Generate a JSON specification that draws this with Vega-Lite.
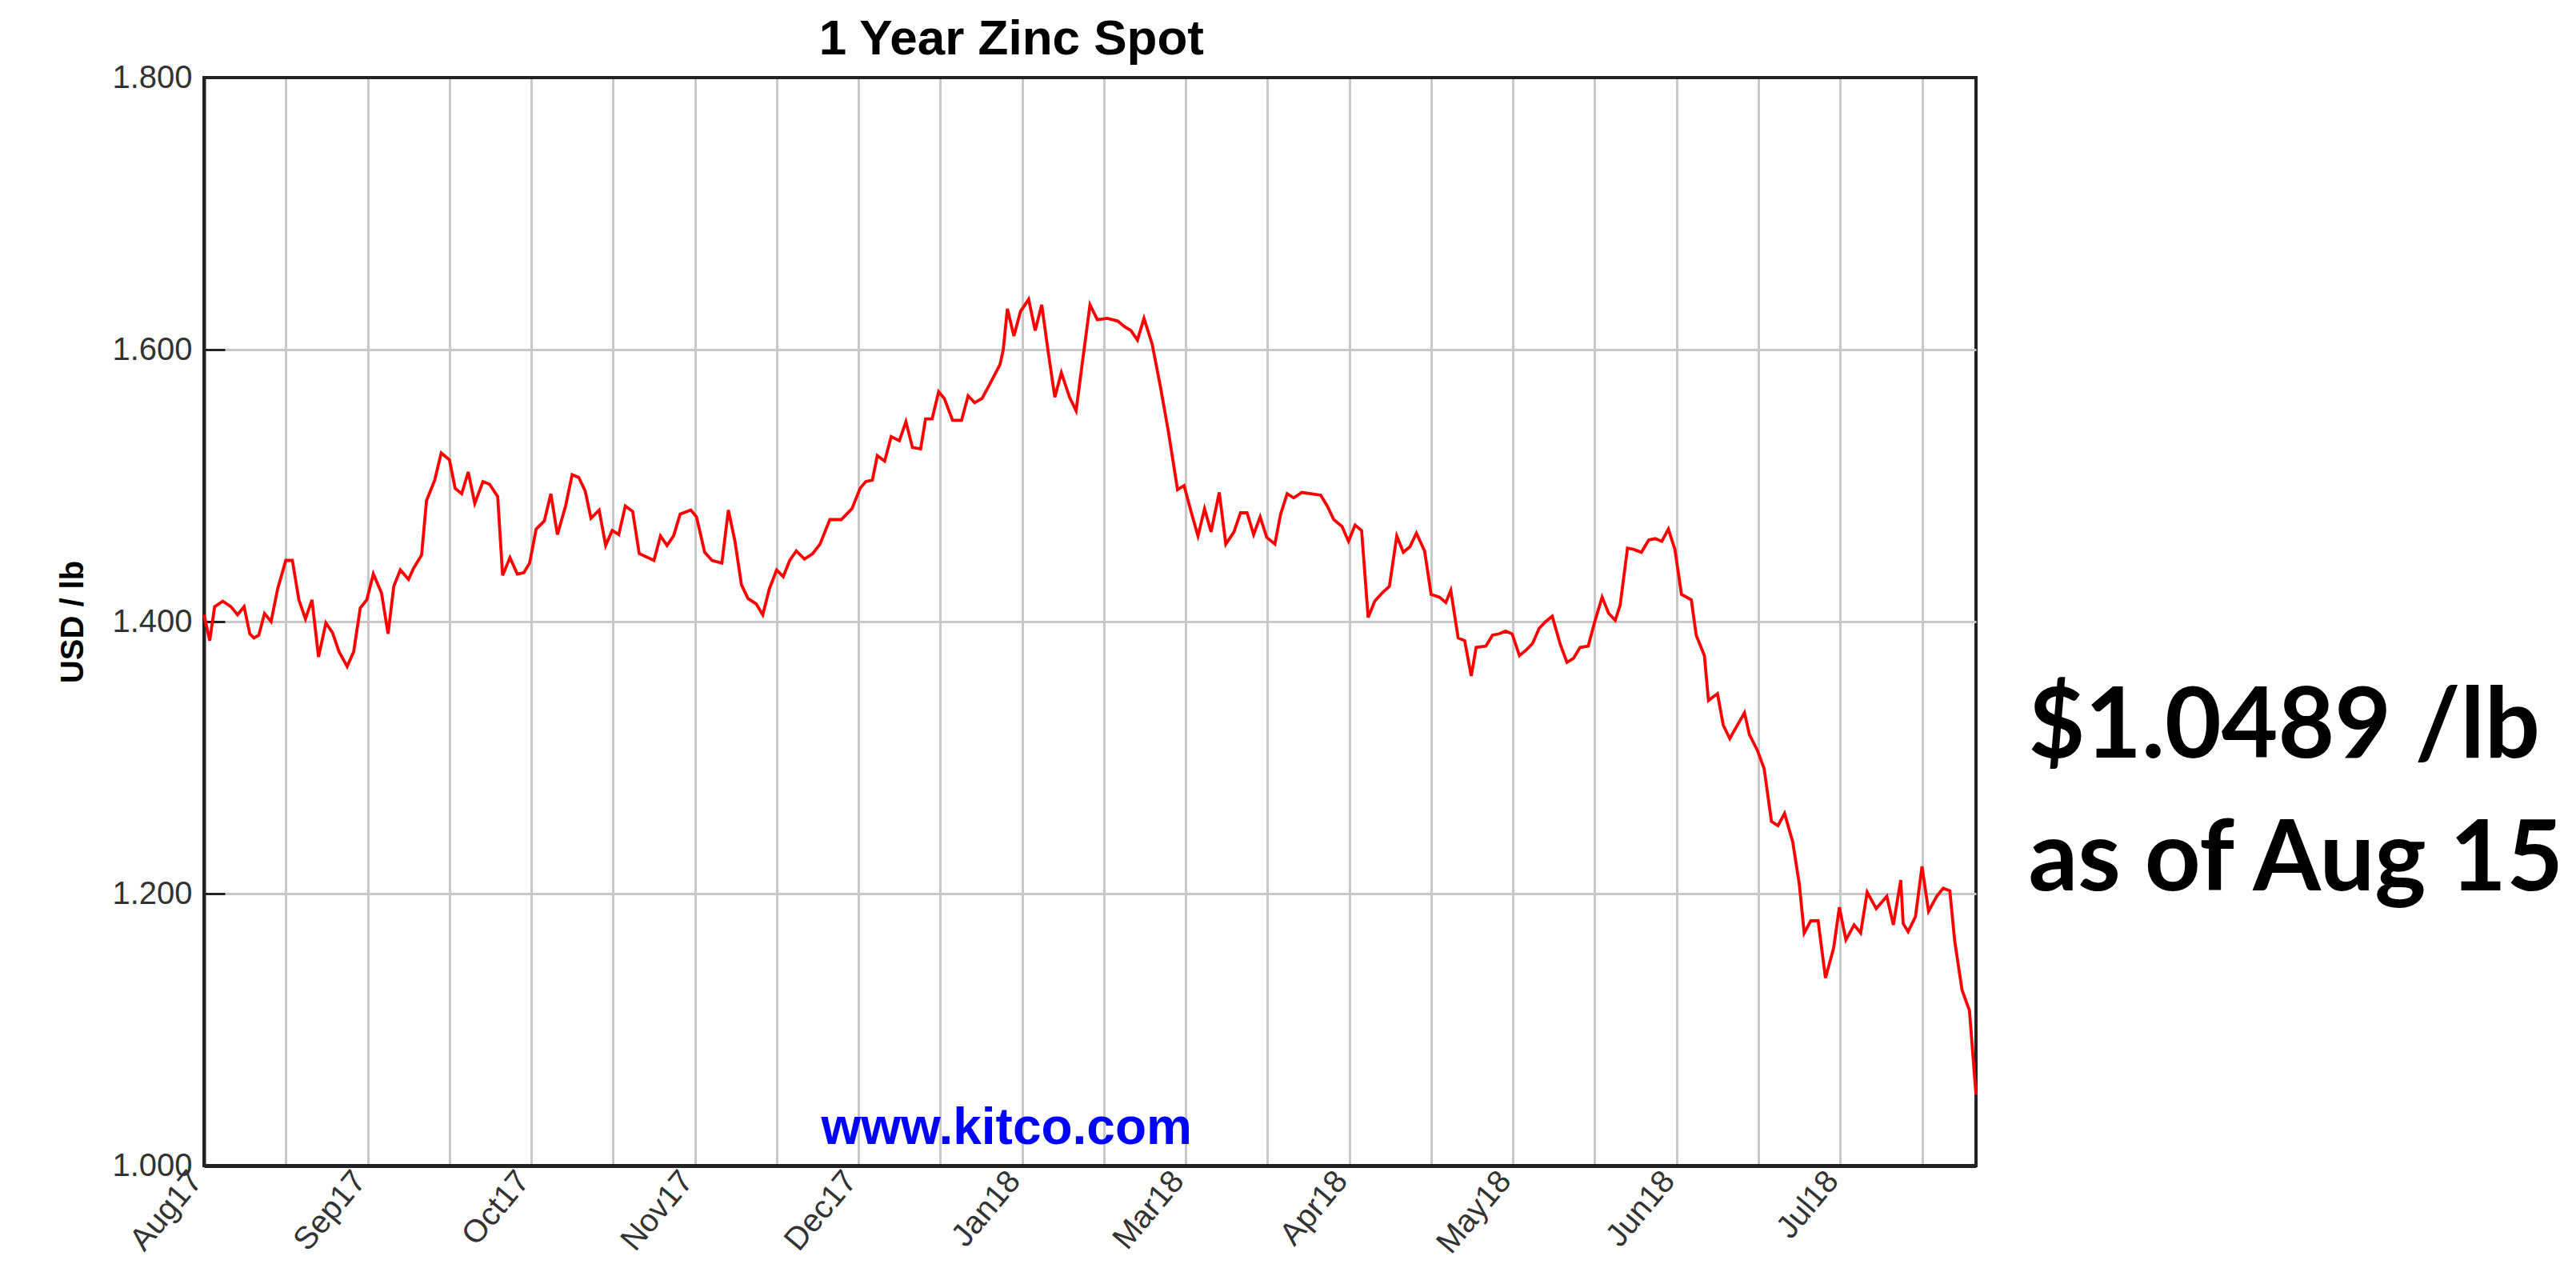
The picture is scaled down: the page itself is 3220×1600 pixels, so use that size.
{
  "$schema": "https://vega.github.io/schema/vega-lite/v6.json",
  "autosize": {"type": "none"},
  "width": 2215,
  "height": 1360,
  "padding": {"left": 255, "top": 97, "right": 750, "bottom": 143},
  "background": "white",
  "config": {"view": {"stroke": "#222222", "strokeWidth": 4}},
  "data": {"values": [
    {"pos": 0.00, "usd": 1.405}, {"pos": 0.07, "usd": 1.386}, {"pos": 0.13, "usd": 1.411}, {"pos": 0.23, "usd": 1.415},
    {"pos": 0.33, "usd": 1.411}, {"pos": 0.41, "usd": 1.405}, {"pos": 0.49, "usd": 1.411}, {"pos": 0.56, "usd": 1.391},
    {"pos": 0.61, "usd": 1.388}, {"pos": 0.67, "usd": 1.390}, {"pos": 0.74, "usd": 1.406}, {"pos": 0.82, "usd": 1.400},
    {"pos": 0.90, "usd": 1.424}, {"pos": 1.00, "usd": 1.445}, {"pos": 1.08, "usd": 1.445}, {"pos": 1.16, "usd": 1.416},
    {"pos": 1.24, "usd": 1.402}, {"pos": 1.32, "usd": 1.416}, {"pos": 1.40, "usd": 1.374}, {"pos": 1.49, "usd": 1.399},
    {"pos": 1.57, "usd": 1.392}, {"pos": 1.65, "usd": 1.378}, {"pos": 1.75, "usd": 1.367}, {"pos": 1.83, "usd": 1.378},
    {"pos": 1.91, "usd": 1.410}, {"pos": 1.99, "usd": 1.416}, {"pos": 2.07, "usd": 1.435}, {"pos": 2.17, "usd": 1.421},
    {"pos": 2.25, "usd": 1.391}, {"pos": 2.32, "usd": 1.426}, {"pos": 2.40, "usd": 1.438}, {"pos": 2.50, "usd": 1.431},
    {"pos": 2.56, "usd": 1.439}, {"pos": 2.66, "usd": 1.449}, {"pos": 2.72, "usd": 1.489}, {"pos": 2.82, "usd": 1.504},
    {"pos": 2.90, "usd": 1.524}, {"pos": 3.00, "usd": 1.519}, {"pos": 3.07, "usd": 1.498}, {"pos": 3.15, "usd": 1.494},
    {"pos": 3.23, "usd": 1.510}, {"pos": 3.31, "usd": 1.487}, {"pos": 3.41, "usd": 1.503}, {"pos": 3.49, "usd": 1.501},
    {"pos": 3.59, "usd": 1.492}, {"pos": 3.65, "usd": 1.434}, {"pos": 3.74, "usd": 1.447}, {"pos": 3.83, "usd": 1.435},
    {"pos": 3.91, "usd": 1.436}, {"pos": 3.98, "usd": 1.443}, {"pos": 4.06, "usd": 1.468}, {"pos": 4.16, "usd": 1.474},
    {"pos": 4.24, "usd": 1.494}, {"pos": 4.32, "usd": 1.464}, {"pos": 4.42, "usd": 1.485}, {"pos": 4.50, "usd": 1.508},
    {"pos": 4.58, "usd": 1.506}, {"pos": 4.66, "usd": 1.496}, {"pos": 4.73, "usd": 1.476}, {"pos": 4.83, "usd": 1.482},
    {"pos": 4.91, "usd": 1.456}, {"pos": 4.99, "usd": 1.467}, {"pos": 5.07, "usd": 1.464}, {"pos": 5.15, "usd": 1.485},
    {"pos": 5.24, "usd": 1.481}, {"pos": 5.32, "usd": 1.450}, {"pos": 5.50, "usd": 1.445}, {"pos": 5.58, "usd": 1.463},
    {"pos": 5.66, "usd": 1.456}, {"pos": 5.74, "usd": 1.463}, {"pos": 5.82, "usd": 1.479}, {"pos": 5.95, "usd": 1.482},
    {"pos": 6.02, "usd": 1.477}, {"pos": 6.12, "usd": 1.451}, {"pos": 6.21, "usd": 1.445}, {"pos": 6.33, "usd": 1.443},
    {"pos": 6.41, "usd": 1.482}, {"pos": 6.49, "usd": 1.459}, {"pos": 6.57, "usd": 1.427}, {"pos": 6.65, "usd": 1.417},
    {"pos": 6.75, "usd": 1.413}, {"pos": 6.83, "usd": 1.405}, {"pos": 6.91, "usd": 1.424}, {"pos": 7.00, "usd": 1.438},
    {"pos": 7.08, "usd": 1.433}, {"pos": 7.16, "usd": 1.445}, {"pos": 7.24, "usd": 1.452}, {"pos": 7.34, "usd": 1.446},
    {"pos": 7.44, "usd": 1.450}, {"pos": 7.53, "usd": 1.457}, {"pos": 7.65, "usd": 1.475}, {"pos": 7.79, "usd": 1.475},
    {"pos": 7.92, "usd": 1.483}, {"pos": 8.02, "usd": 1.498}, {"pos": 8.09, "usd": 1.503}, {"pos": 8.17, "usd": 1.504},
    {"pos": 8.23, "usd": 1.522}, {"pos": 8.32, "usd": 1.518}, {"pos": 8.40, "usd": 1.536}, {"pos": 8.50, "usd": 1.533},
    {"pos": 8.58, "usd": 1.547}, {"pos": 8.66, "usd": 1.528}, {"pos": 8.76, "usd": 1.527}, {"pos": 8.82, "usd": 1.549},
    {"pos": 8.90, "usd": 1.549}, {"pos": 8.98, "usd": 1.569}, {"pos": 9.05, "usd": 1.564}, {"pos": 9.15, "usd": 1.548},
    {"pos": 9.26, "usd": 1.548}, {"pos": 9.34, "usd": 1.566}, {"pos": 9.42, "usd": 1.561}, {"pos": 9.51, "usd": 1.564},
    {"pos": 9.60, "usd": 1.574}, {"pos": 9.73, "usd": 1.589}, {"pos": 9.77, "usd": 1.600}, {"pos": 9.82, "usd": 1.630},
    {"pos": 9.90, "usd": 1.610}, {"pos": 9.98, "usd": 1.628}, {"pos": 10.08, "usd": 1.637}, {"pos": 10.16, "usd": 1.614},
    {"pos": 10.24, "usd": 1.633}, {"pos": 10.32, "usd": 1.598}, {"pos": 10.40, "usd": 1.565}, {"pos": 10.48, "usd": 1.583},
    {"pos": 10.58, "usd": 1.565}, {"pos": 10.66, "usd": 1.555}, {"pos": 10.74, "usd": 1.592}, {"pos": 10.83, "usd": 1.633},
    {"pos": 10.92, "usd": 1.622}, {"pos": 11.04, "usd": 1.623}, {"pos": 11.17, "usd": 1.621}, {"pos": 11.25, "usd": 1.617},
    {"pos": 11.33, "usd": 1.614}, {"pos": 11.41, "usd": 1.607}, {"pos": 11.49, "usd": 1.623}, {"pos": 11.59, "usd": 1.604},
    {"pos": 11.69, "usd": 1.573}, {"pos": 11.79, "usd": 1.539}, {"pos": 11.90, "usd": 1.497}, {"pos": 11.98, "usd": 1.500},
    {"pos": 12.06, "usd": 1.482}, {"pos": 12.15, "usd": 1.463}, {"pos": 12.23, "usd": 1.483}, {"pos": 12.31, "usd": 1.466},
    {"pos": 12.41, "usd": 1.495}, {"pos": 12.49, "usd": 1.457}, {"pos": 12.59, "usd": 1.466}, {"pos": 12.67, "usd": 1.480},
    {"pos": 12.75, "usd": 1.480}, {"pos": 12.83, "usd": 1.464}, {"pos": 12.91, "usd": 1.477}, {"pos": 12.99, "usd": 1.462},
    {"pos": 13.09, "usd": 1.457}, {"pos": 13.16, "usd": 1.479}, {"pos": 13.24, "usd": 1.494}, {"pos": 13.32, "usd": 1.491},
    {"pos": 13.42, "usd": 1.495}, {"pos": 13.65, "usd": 1.493}, {"pos": 13.73, "usd": 1.485}, {"pos": 13.81, "usd": 1.475},
    {"pos": 13.91, "usd": 1.470}, {"pos": 13.99, "usd": 1.459}, {"pos": 14.07, "usd": 1.471}, {"pos": 14.15, "usd": 1.467},
    {"pos": 14.23, "usd": 1.403}, {"pos": 14.31, "usd": 1.415}, {"pos": 14.40, "usd": 1.421}, {"pos": 14.49, "usd": 1.426},
    {"pos": 14.58, "usd": 1.463}, {"pos": 14.66, "usd": 1.451}, {"pos": 14.74, "usd": 1.455}, {"pos": 14.82, "usd": 1.465},
    {"pos": 14.92, "usd": 1.452}, {"pos": 15.00, "usd": 1.420}, {"pos": 15.10, "usd": 1.418}, {"pos": 15.18, "usd": 1.414},
    {"pos": 15.24, "usd": 1.423}, {"pos": 15.33, "usd": 1.388}, {"pos": 15.41, "usd": 1.386}, {"pos": 15.49, "usd": 1.360},
    {"pos": 15.55, "usd": 1.381}, {"pos": 15.67, "usd": 1.382}, {"pos": 15.75, "usd": 1.390}, {"pos": 15.83, "usd": 1.391},
    {"pos": 15.91, "usd": 1.393}, {"pos": 15.99, "usd": 1.391}, {"pos": 16.08, "usd": 1.375}, {"pos": 16.16, "usd": 1.379},
    {"pos": 16.24, "usd": 1.384}, {"pos": 16.32, "usd": 1.395}, {"pos": 16.40, "usd": 1.400}, {"pos": 16.48, "usd": 1.404},
    {"pos": 16.58, "usd": 1.383}, {"pos": 16.66, "usd": 1.370}, {"pos": 16.74, "usd": 1.373}, {"pos": 16.82, "usd": 1.381},
    {"pos": 16.92, "usd": 1.382}, {"pos": 17.00, "usd": 1.400}, {"pos": 17.09, "usd": 1.418}, {"pos": 17.17, "usd": 1.406},
    {"pos": 17.25, "usd": 1.401}, {"pos": 17.31, "usd": 1.412}, {"pos": 17.40, "usd": 1.454}, {"pos": 17.48, "usd": 1.453},
    {"pos": 17.57, "usd": 1.451}, {"pos": 17.66, "usd": 1.460}, {"pos": 17.74, "usd": 1.461}, {"pos": 17.82, "usd": 1.459},
    {"pos": 17.90, "usd": 1.468}, {"pos": 17.98, "usd": 1.453}, {"pos": 18.06, "usd": 1.420}, {"pos": 18.18, "usd": 1.416},
    {"pos": 18.24, "usd": 1.390}, {"pos": 18.34, "usd": 1.375}, {"pos": 18.39, "usd": 1.342}, {"pos": 18.50, "usd": 1.347},
    {"pos": 18.57, "usd": 1.324}, {"pos": 18.65, "usd": 1.314}, {"pos": 18.83, "usd": 1.333}, {"pos": 18.89, "usd": 1.317},
    {"pos": 18.99, "usd": 1.305}, {"pos": 19.07, "usd": 1.292}, {"pos": 19.16, "usd": 1.253}, {"pos": 19.24, "usd": 1.250},
    {"pos": 19.32, "usd": 1.259}, {"pos": 19.42, "usd": 1.238}, {"pos": 19.50, "usd": 1.207}, {"pos": 19.56, "usd": 1.171},
    {"pos": 19.64, "usd": 1.180}, {"pos": 19.73, "usd": 1.180}, {"pos": 19.82, "usd": 1.138}, {"pos": 19.92, "usd": 1.160},
    {"pos": 19.99, "usd": 1.190}, {"pos": 20.07, "usd": 1.166}, {"pos": 20.17, "usd": 1.177}, {"pos": 20.25, "usd": 1.171},
    {"pos": 20.33, "usd": 1.201}, {"pos": 20.44, "usd": 1.189}, {"pos": 20.57, "usd": 1.198}, {"pos": 20.65, "usd": 1.177},
    {"pos": 20.74, "usd": 1.210}, {"pos": 20.77, "usd": 1.178}, {"pos": 20.83, "usd": 1.172}, {"pos": 20.92, "usd": 1.183},
    {"pos": 21.00, "usd": 1.220}, {"pos": 21.08, "usd": 1.187}, {"pos": 21.18, "usd": 1.198}, {"pos": 21.26, "usd": 1.204},
    {"pos": 21.34, "usd": 1.202}, {"pos": 21.40, "usd": 1.165}, {"pos": 21.49, "usd": 1.129}, {"pos": 21.58, "usd": 1.114},
    {"pos": 21.66, "usd": 1.052}
  ]},
  "layer": [
    {
      "mark": {"type": "line", "color": "#ff0000", "strokeWidth": 3.8, "interpolate": "linear"},
      "encoding": {
        "x": {"field": "pos", "type": "quantitative",
          "scale": {"domain": [0, 21.66], "nice": false, "zero": false},
          "axis": {"title": null, "values": [0,1,2,3,4,5,6,7,8,9,10,11,12,13,14,15,16,17,18,19,20,21],
            "labelExpr": "['Aug17','','Sep17','','Oct17','','Nov17','','Dec17','','Jan18','','Mar18','','Apr18','','May18','','Jun18','','Jul18',''][datum.value]",
            "grid": true, "gridColor": {"condition": {"test": "datum.value == 0", "value": "#222222"}, "value": "#c8c8c8"}, "gridWidth": 3,
            "ticks": false, "domain": true, "domainColor": "#222222", "domainWidth": 5,
            "labelAngle": -50, "labelAlign": "right", "labelBaseline": "middle", "labelPadding": 12, "labelOffset": -10,
            "labelFont": "Liberation Sans", "labelFontSize": 40, "labelColor": "#333333",
            "labelOverlap": false, "labelFlush": false, "labelBound": false}},
        "y": {"field": "usd", "type": "quantitative",
          "scale": {"domain": [1.0, 1.8], "nice": false, "zero": false},
          "axis": {"title": "USD / lb", "values": [1.0, 1.2, 1.4, 1.6, 1.8], "format": ".3f",
            "grid": true, "gridColor": {"condition": {"test": "datum.value == 1.8 || datum.value == 1.0", "value": "#222222"}, "value": "#c8c8c8"}, "gridWidth": 3,
            "ticks": true, "tickSize": -26, "tickColor": "#222222", "tickWidth": 3,
            "domain": true, "domainColor": "#222222", "domainWidth": 4,
            "labelFont": "Liberation Sans", "labelFontSize": 40, "labelColor": "#333333", "labelPadding": 41,
            "labelOverlap": false, "labelFlush": false, "labelBound": false,
            "titleFont": "Liberation Sans", "titleFontSize": 40, "titleFontWeight": "bold", "titleColor": "#000000", "titlePadding": 28}}
      }
    },
    {
      "data": {"values": [{}]},
      "mark": {"type": "text", "text": "1 Year Zinc Spot", "font": "Liberation Sans", "fontSize": 62, "fontWeight": "bold", "color": "#000000", "align": "center", "baseline": "alphabetic", "clip": false},
      "encoding": {"x": {"datum": 9.87, "type": "quantitative"}, "y": {"datum": 1.817, "type": "quantitative"}}
    },
    {
      "data": {"values": [{}]},
      "mark": {"type": "text", "text": "www.kitco.com", "font": "Liberation Sans", "fontSize": 64, "fontWeight": "bold", "color": "#0000ff", "align": "center", "baseline": "alphabetic"},
      "encoding": {"x": {"datum": 9.81, "type": "quantitative"}, "y": {"datum": 1.016, "type": "quantitative"}}
    },
    {
      "data": {"values": [{}]},
      "mark": {"type": "text", "text": ["$1.0489 /lb", "as of Aug 15"], "font": "Lato", "fontSize": 122, "fontWeight": "bold", "color": "#000000", "align": "left", "baseline": "alphabetic", "lineHeight": 166, "clip": false},
      "encoding": {"x": {"datum": 22.3, "type": "quantitative"}, "y": {"datum": 1.3, "type": "quantitative"}}
    }
  ]
}
